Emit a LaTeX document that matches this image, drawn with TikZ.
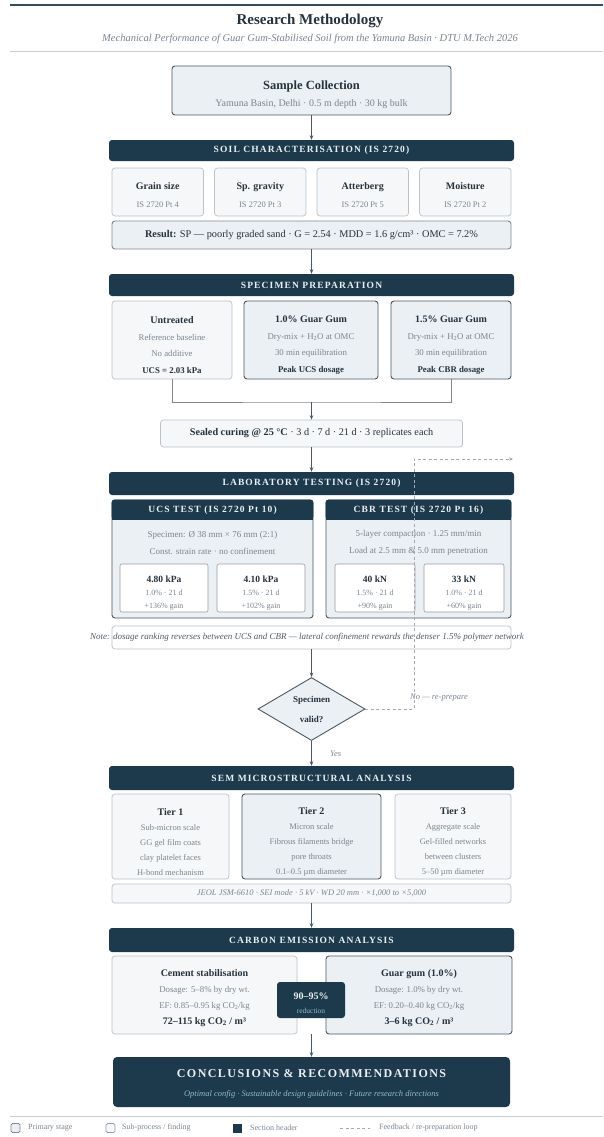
\documentclass[tikz,border=0pt]{standalone}
\usepackage{fontspec}
\setmainfont{Liberation Serif}
\newfontfamily\capsfont[LetterSpace=12]{Liberation Serif}
\usetikzlibrary{arrows.meta,shapes.geometric}

\definecolor{navy}{HTML}{1C3A4C}
\definecolor{primfill}{HTML}{EAF0F4}
\definecolor{primline}{HTML}{4C5862}
\definecolor{subfill}{HTML}{F5F7F9}
\definecolor{subline}{HTML}{BAC3CA}
\definecolor{darktext}{HTML}{26333D}
\definecolor{graytext}{HTML}{7B868F}
\definecolor{hdrtext}{HTML}{E9EFF2}
\definecolor{tealtext}{HTML}{8CBCC8}
\definecolor{rulec}{HTML}{C8CED3}
\definecolor{arrowc}{HTML}{4C5862}

\newcommand{\boxtitle}[1]{{\color{darktext}\bfseries\fontsize{10}{15}\selectfont #1}}
\newcommand{\boldline}[1]{{\color{darktext}\bfseries #1}}

\tikzset{
  prim/.style={draw=primline, fill=primfill, line width=0.9pt, rounded corners=3pt, inner sep=0pt},
  subbox/.style={draw=subline, fill=subfill, line width=0.7pt, rounded corners=3pt, inner sep=0pt},
  inbox/.style={draw=subline!80!black, fill=white, line width=0.6pt, rounded corners=2pt, inner sep=0pt},
  hdr/.style={fill=navy, rounded corners=3pt, inner sep=0pt, text=hdrtext,
    font=\capsfont\bfseries\fontsize{9.5}{11}\selectfont},
  txt/.style={align=center, text=graytext, inner sep=0pt, font=\fontsize{8.5}{15}\selectfont},
  arr/.style={draw=arrowc, line width=0.8pt, -{Stealth[length=4.5pt,width=3.5pt]}},
  conn/.style={draw=subline!70!black, line width=0.8pt},
  fbline/.style={draw=graytext!70, line width=0.7pt, dash pattern=on 3pt off 2.5pt},
  legtxt/.style={anchor=west, text=graytext, inner sep=0pt, font=\fontsize{8}{10}\selectfont}
}

\begin{document}
\begin{tikzpicture}[x=1pt,y=-1pt]
\useasboundingbox (0,0) rectangle (603,1137);
\fill[white] (0,0) rectangle (603,1137);

% title block
\draw[navy!75!gray, line width=2pt] (10,5) -- (603,5);
\node[text=darktext, font=\bfseries\fontsize{15}{17}\selectfont] (title) at (310,21) {Research Methodology};
\node[text=graytext, font=\itshape\fontsize{10.5}{12}\selectfont] (subtitle) at (310,39) {Mechanical Performance of Guar Gum-Stabilised Soil from the Yamuna Basin · DTU M.Tech 2026};
\draw[rulec, line width=0.7pt] (10,51) -- (603,51);

% sample collection
\node[prim, minimum width=279pt, minimum height=49pt] (sample) at (311.5,90.5) {};
\node[txt, font=\fontsize{10}{15}\selectfont] (sample-t) at (311.5,94.5) {{\color{darktext}\bfseries\fontsize{12.5}{15}\selectfont Sample Collection}\\[2pt]Yamuna Basin, Delhi · 0.5 m depth · 30 kg bulk};

% soil characterisation
\node[hdr, minimum width=405pt, minimum height=21pt] (soil) at (311.5,150.5) {SOIL CHARACTERISATION (IS 2720)};
\node[subbox, minimum width=91.5pt, minimum height=48pt] (grain) at (157.75,192) {};
\node[subbox, minimum width=91.5pt, minimum height=48pt] (gravity) at (260.25,192) {};
\node[subbox, minimum width=91.5pt, minimum height=48pt] (atterberg) at (362.75,192) {};
\node[subbox, minimum width=91.5pt, minimum height=48pt] (moisture) at (465.25,192) {};
\node[txt] (grain-t) at (157.75,195) {\boxtitle{Grain size}\\[3pt]IS 2720 Pt 4};
\node[txt] (gravity-t) at (260.25,195) {\boxtitle{Sp. gravity}\\[3pt]IS 2720 Pt 3};
\node[txt] (atterberg-t) at (362.75,195) {\boxtitle{Atterberg}\\[3pt]IS 2720 Pt 5};
\node[txt] (moisture-t) at (465.25,195) {\boxtitle{Moisture}\\[3pt]IS 2720 Pt 2};
\node[prim, draw=primline!70, minimum width=399pt, minimum height=28pt, text=darktext,
  font=\fontsize{10.3}{12}\selectfont] (result) at (311.5,235) {\textbf{Result:} SP — poorly graded sand · G = 2.54 · MDD = 1.6 g/cm³ · OMC = 7.2\%};

% specimen preparation
\node[hdr, minimum width=405pt, minimum height=22pt] (prep) at (311.5,285) {SPECIMEN PREPARATION};
\node[subbox, minimum width=120pt, minimum height=78pt] (untr) at (172,340) {};
\node[prim, minimum width=134pt, minimum height=78pt] (gg10) at (311,340) {};
\node[prim, minimum width=120pt, minimum height=78pt] (gg15) at (451,340) {};
\node[txt, font=\fontsize{8.8}{16.5}\selectfont] (untr-t) at (172,345) {\boxtitle{Untreated}\\Reference baseline\\No additive\\\boldline{UCS = 2.03 kPa}};
\node[txt, font=\fontsize{8.8}{16.5}\selectfont] (gg10-t) at (311,345) {\boxtitle{1.0\% Guar Gum}\\Dry-mix + H\textsubscript{2}O at OMC\\30 min equilibration\\\boldline{Peak UCS dosage}};
\node[txt, font=\fontsize{8.8}{16.5}\selectfont] (gg15-t) at (451,345) {\boxtitle{1.5\% Guar Gum}\\Dry-mix + H\textsubscript{2}O at OMC\\30 min equilibration\\\boldline{Peak CBR dosage}};
\coordinate (join) at (311.5,402);
\draw[conn] (untr.south) |- (join) -| (gg15.south);
\node[subbox, minimum width=302pt, minimum height=27pt, text=darktext,
  font=\fontsize{10.2}{12}\selectfont] (curing) at (311.5,433.5) {\textbf{Sealed curing @ 25 °C} · 3 d · 7 d · 21 d · 3 replicates each};

% laboratory testing
\node[hdr, minimum width=405pt, minimum height=23pt] (lab) at (311.5,483.5) {LABORATORY TESTING (IS 2720)};
\node[prim, minimum width=201pt, minimum height=118pt] (ucs) at (212.5,559) {};
\node[prim, minimum width=185pt, minimum height=118pt] (cbr) at (418.5,559) {};
\fill[navy, rounded corners=3pt] (ucs.north west) rectangle ([yshift=-20pt]ucs.north east);
\fill[navy] ([yshift=-12pt]ucs.north west) rectangle ([yshift=-20pt]ucs.north east);
\fill[navy, rounded corners=3pt] (cbr.north west) rectangle ([yshift=-20pt]cbr.north east);
\fill[navy] ([yshift=-12pt]cbr.north west) rectangle ([yshift=-20pt]cbr.north east);
\node[text=hdrtext, font=\capsfont\bfseries\fontsize{9.5}{11}\selectfont] (ucs-h) at (212.5,510) {UCS TEST (IS 2720 Pt 10)};
\node[text=hdrtext, font=\capsfont\bfseries\fontsize{9.5}{11}\selectfont] (cbr-h) at (418.5,510) {CBR TEST (IS 2720 Pt 16)};
\node[txt, font=\fontsize{9}{17}\selectfont] (ucs-t) at (212.5,542.5) {Specimen: Ø 38 mm × 76 mm (2:1)\\Const. strain rate · no confinement};
\node[txt, font=\fontsize{9}{17}\selectfont] (cbr-t) at (418.5,542.5) {5-layer compaction · 1.25 mm/min\\Load at 2.5 mm \& 5.0 mm penetration};
\node[inbox, minimum width=88pt, minimum height=48pt] (ucs1) at (164,588) {};
\node[inbox, minimum width=88pt, minimum height=48pt] (ucs2) at (261,588) {};
\node[inbox, minimum width=80pt, minimum height=48pt] (cbr1) at (375,588) {};
\node[inbox, minimum width=80pt, minimum height=48pt] (cbr2) at (464,588) {};
\node[txt, font=\fontsize{8}{13}\selectfont] (ucs1-t) at (164,593) {\boldline{\fontsize{9.5}{13}\selectfont 4.80 kPa}\\1.0\% · 21 d\\+136\% gain};
\node[txt, font=\fontsize{8}{13}\selectfont] (ucs2-t) at (261,593) {\boldline{\fontsize{9.5}{13}\selectfont 4.10 kPa}\\1.5\% · 21 d\\+102\% gain};
\node[txt, font=\fontsize{8}{13}\selectfont] (cbr1-t) at (375,593) {\boldline{\fontsize{9.5}{13}\selectfont 40 kN}\\1.5\% · 21 d\\+90\% gain};
\node[txt, font=\fontsize{8}{13}\selectfont] (cbr2-t) at (464,593) {\boldline{\fontsize{9.5}{13}\selectfont 33 kN}\\1.0\% · 21 d\\+60\% gain};
\node[subbox, fill=white, minimum width=399pt, minimum height=23pt] (note) at (311.5,637.5) {};
\node[text=darktext!80, font=\itshape\fontsize{9}{11}\selectfont] (note-t) at (307,637.5) {Note: dosage ranking reverses between UCS and CBR — lateral confinement rewards the denser 1.5\% polymer network};

% validity check
\node[diamond, draw=primline, fill=primfill, line width=0.9pt, minimum width=107pt, minimum height=63pt,
  inner sep=0pt, aspect=1.7, align=center, text=darktext, font=\bfseries\fontsize{9}{20}\selectfont] (valid) at (311.5,709) {Specimen\\valid?};
\node[anchor=west, text=graytext, inner sep=0pt, font=\itshape\fontsize{8.5}{10}\selectfont] (yes) at (330,754) {Yes};
\node[anchor=west, text=graytext, inner sep=0pt, font=\itshape\fontsize{8.5}{10}\selectfont] (noprep) at (410,698) {No — re-prepare};

% SEM
\node[hdr, minimum width=405pt, minimum height=24pt] (sem) at (311.5,778) {SEM MICROSTRUCTURAL ANALYSIS};
\node[subbox, minimum width=117pt, minimum height=85pt] (tier1) at (170.5,836.5) {};
\node[prim, minimum width=139pt, minimum height=85pt] (tier2) at (311.5,836.5) {};
\node[subbox, minimum width=116pt, minimum height=85pt] (tier3) at (453,836.5) {};
\node[txt] (tier1-t) at (170.5,842) {\boxtitle{Tier 1}\\Sub-micron scale\\GG gel film coats\\clay platelet faces\\H-bond mechanism};
\node[txt] (tier2-t) at (311.5,842) {\boxtitle{Tier 2}\\Micron scale\\Fibrous filaments bridge\\pore throats\\0.1–0.5 µm diameter};
\node[txt] (tier3-t) at (453,842) {\boxtitle{Tier 3}\\Aggregate scale\\Gel-filled networks\\between clusters\\5–50 µm diameter};
\node[subbox, minimum width=399pt, minimum height=19pt, text=graytext,
  font=\itshape\fontsize{8.5}{10}\selectfont] (jeol) at (311.5,893.5) {JEOL JSM-6610 · SEI mode · 5 kV · WD 20 mm · ×1,000 to ×5,000};

% carbon
\node[hdr, minimum width=405pt, minimum height=24pt] (carbon) at (311.5,940) {CARBON EMISSION ANALYSIS};
\node[subbox, minimum width=185pt, minimum height=78pt] (cement) at (204.5,995) {};
\node[prim, minimum width=186pt, minimum height=78pt] (guar) at (419,995) {};
\node[txt, font=\fontsize{8.8}{16}\selectfont] (cement-t) at (204.5,998) {\boxtitle{Cement stabilisation}\\Dosage: 5–8\% by dry wt.\\EF: 0.85–0.95 kg CO\textsubscript{2}/kg\\\boldline{\fontsize{10}{16}\selectfont 72–115 kg CO\textsubscript{2} / m³}};
\node[txt, font=\fontsize{8.8}{16}\selectfont] (guar-t) at (419,998) {\boxtitle{Guar gum (1.0\%)}\\Dosage: 1.0\% by dry wt.\\EF: 0.20–0.40 kg CO\textsubscript{2}/kg\\\boldline{\fontsize{10}{16}\selectfont 3–6 kg CO\textsubscript{2} / m³}};
\node[fill=navy, rounded corners=3pt, minimum width=68pt, minimum height=36pt, inner sep=0pt] (cut) at (311,1000) {};
\node[align=center, inner sep=0pt, text=tealtext, font=\fontsize{7.5}{14}\selectfont] (cut-t) at (311,1003.5) {{\color{hdrtext}\bfseries\fontsize{10}{14}\selectfont 90–95\%}\\reduction};
\coordinate (co2-out) at (311.5,1034);

% conclusions
\node[fill=navy, rounded corners=4pt, minimum width=397pt, minimum height=50pt, inner sep=0pt] (concl) at (311.5,1082) {};
\node[align=center, inner sep=0pt, text=tealtext, font=\itshape\fontsize{8.5}{19}\selectfont] (concl-t) at (311.5,1084) {{\color{hdrtext}\capsfont\upshape\bfseries\fontsize{12}{19}\selectfont CONCLUSIONS \& RECOMMENDATIONS}\\Optimal config · Sustainable design guidelines · Future research directions};

% main flow
\draw[arr] (sample.south) -- (soil.north);
\draw[arr] (result.south) -- (prep.north);
\draw[arr] (join) -- (curing.north);
\draw[arr] (curing.south) -- (lab.north);
\draw[arr] (note.south) -- (valid.north);
\draw[arr] (valid.south) -- (sem.north);
\draw[arr] (jeol.south) -- (carbon.north);
\draw[arr] (co2-out) -- (concl.north);

% feedback loop
\coordinate (fb1) at (414,709);
\coordinate (fb2) at (414,459);
\coordinate (fb3) at (513,459);
\draw[fbline, -{Stealth[length=4pt,width=3.5pt]}] (valid.east) -- (fb1) -- (fb2) -- (fb3);

% legend
\draw[rulec, line width=0.7pt] (10,1116) -- (603,1116);
\node[prim, draw=primline!70, rounded corners=1.5pt, minimum size=9pt] (lg-prim) at (15.5,1128) {};
\node[legtxt] (lg-prim-t) at (28,1128) {Primary stage};
\node[subbox, draw=subline!80!black, rounded corners=1.5pt, minimum size=9pt] (lg-sub) at (110.5,1128) {};
\node[legtxt] (lg-sub-t) at (122,1128) {Sub-process / finding};
\node[fill=navy, minimum size=9pt, inner sep=0pt] (lg-hdr) at (237.5,1128) {};
\node[legtxt] (lg-hdr-t) at (250,1128) {Section header};
\coordinate (lg-fb-a) at (340,1128);
\coordinate (lg-fb-b) at (370,1128);
\draw[fbline] (lg-fb-a) -- (lg-fb-b);
\node[legtxt] (lg-fb-t) at (379,1128) {Feedback / re-preparation loop};
\end{tikzpicture}
\end{document}
